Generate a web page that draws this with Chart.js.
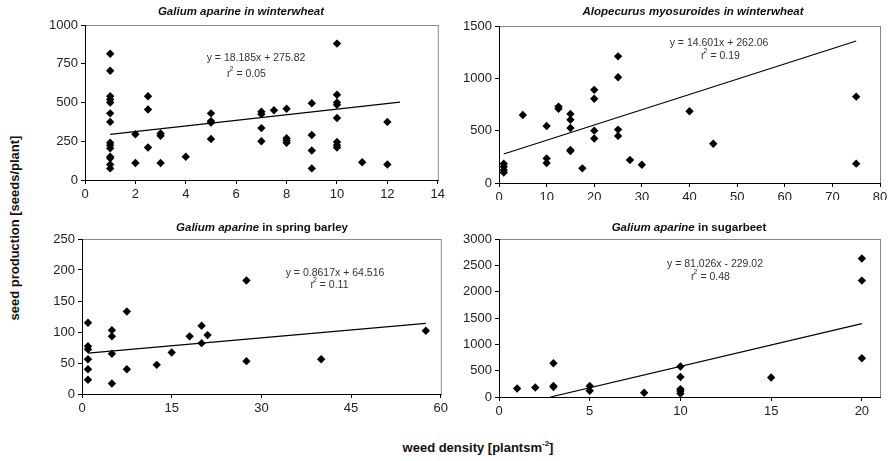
<!DOCTYPE html>
<html>
<head>
<meta charset="utf-8">
<script src="https://cdn.jsdelivr.net/npm/chart.js@4.4.0/dist/chart.umd.min.js"></script>
<style>
  body { margin: 0; background: #fff; font-family: "Liberation Sans", Arial, sans-serif; }
  #wrap { position: relative; width: 893px; height: 461px; overflow: hidden; }
  canvas { position: absolute; }
  .ylab { position: absolute; left: 14px; top: 228px; transform: translate(-50%, -50%) rotate(-90deg);
          font: bold 13px "Liberation Sans", Arial, sans-serif; color: #111; white-space: nowrap; }
  .xlab { position: absolute; left: 478px; top: 447px; transform: translate(-50%, -50%);
          font: bold 13px "Liberation Sans", Arial, sans-serif; color: #111; white-space: nowrap; }
  .xlab sup { font-size: 8px; vertical-align: 6px; line-height: 0; }
</style>
</head>
<body>
<div id="wrap">
  <canvas id="g1" width="418" height="200" style="left:30px;top:0px"></canvas>
  <canvas id="g2" width="443" height="200" style="left:450px;top:0px"></canvas>
  <canvas id="g3" width="421" height="200" style="left:30px;top:215px"></canvas>
  <canvas id="g4" width="443" height="200" style="left:450px;top:215px"></canvas>
  <div class="ylab">seed production [seeds/plant]</div>
  <div class="xlab">weed density [plantsm<sup>-2</sup>]</div>
</div>
<script>
// Galium aparine in winterwheat
const ww1X = [1,1,1,1,1,1,1,1,1,1,1,1,1,1, 2,2, 2.5,2.5,2.5, 3,3,3, 4, 5,5,5,5,
  7,7,7,7, 7.5, 8,8,8,8, 9,9,9,9, 10,10,10,10,10,10,10,10, 11, 12,12];
const ww1Y = [815,705,540,520,500,430,375,240,225,205,150,140,100,75, 295,110, 540,455,210, 300,285,110, 150, 430,380,370,265,
  440,425,335,250, 450, 460,270,255,240, 495,290,190,75, 880,550,500,485,400,245,225,210, 115, 375,100];
const ww1TrendX = [1, 12.5];
const ww1TrendY = [294, 503];

// Alopecurus myosuroides in winterwheat
const ww2X = [1,1,1,1, 5, 10,10,10, 12.5,12.5, 15,15,15,15,15, 17.5, 20,20,20,20, 25,25,25,25, 27.5, 30, 40, 45, 75,75];
const ww2Y = [185,155,125,100, 650, 545,235,190, 730,710, 660,605,525,315,305, 140, 890,805,500,425, 1210,1010,510,450, 220, 175, 685, 375, 825,185];
const ww2TrendX = [1, 75];
const ww2TrendY = [277, 1357];

// Galium aparine in spring barley
const sbX = [1,1,1,1,1,1, 5,5,5,5, 7.5,7.5, 12.5, 15, 18, 20,20, 21, 27.5,27.5, 40, 57.5];
const sbY = [115,77,72,56,40,23, 103,93,65,17, 133,40, 47, 67, 93, 110,82, 95, 183,53, 56, 102];
const sbTrendX = [1, 57.5];
const sbTrendY = [66, 114];

// Galium aparine in sugarbeet
const sgX = [1, 2, 3,3,3, 5,5, 8, 10,10,10,10,10, 15, 20,20,20];
const sgY = [160, 180, 640,210,190, 210,120, 80, 580,380,150,115,65, 370, 2630,2210,735];
const sgTrendX = [2.83, 20];
const sgTrendY = [0, 1392];

// [min, max, step]
const xTicks1 = [0, 14, 2], yTicks1 = [0, 1000, 250];
const xTicks2 = [0, 80, 10], yTicks2 = [0, 1500, 500];
const xTicks3 = [0, 60, 15], yTicks3 = [0, 250, 50];
const xTicks4 = [0, 21, 5],  yTicks4 = [0, 3000, 500];

const pts = (xs, ys) => xs.map((x, i) => ({ x: x, y: ys[i] }));

// frame, titel und gleichung
const panelText = {
  id: 'panelText',
  afterDraw(chart, args, o) {
    const ctx = chart.ctx, a = chart.chartArea;
    ctx.save();
    ctx.strokeStyle = '#888';
    ctx.lineWidth = 1;
    ctx.strokeRect(a.left + 0.5, a.top + 0.5, a.right - a.left, a.bottom - a.top);
    ctx.strokeStyle = '#000';
    ctx.beginPath();
    ctx.moveTo(a.left + 0.5, a.top);
    ctx.lineTo(a.left + 0.5, a.bottom + 0.5);
    ctx.lineTo(a.right + 1, a.bottom + 0.5);
    ctx.stroke();

    ctx.fillStyle = '#111';
    ctx.textBaseline = 'middle';
    ctx.textAlign = 'left';
    // title with italic species name
    const fonts = o.title.map(p => (p.i ? 'italic ' : '') + 'bold 11.5px "Liberation Sans", Arial, sans-serif');
    let w = 0;
    o.title.forEach((p, i) => { ctx.font = fonts[i]; w += ctx.measureText(p.t).width; });
    let x = o.tx - w / 2;
    o.title.forEach((p, i) => { ctx.font = fonts[i]; ctx.fillText(p.t, x, o.ty); x += ctx.measureText(p.t).width; });

    const f = '10.5px "Liberation Sans", Arial, sans-serif', fs = '7px "Liberation Sans", Arial, sans-serif';
    ctx.fillStyle = '#333';
    ctx.font = f;
    ctx.textAlign = 'center';
    ctx.fillText(o.eq, o.ex, o.ey);
    // r^2 line
    const rest = ' = ' + o.r2;
    ctx.textAlign = 'left';
    const wr = ctx.measureText('r').width, wrest = ctx.measureText(rest).width;
    ctx.font = fs;
    const w2 = ctx.measureText('2').width;
    let rx = o.rx - (wr + w2 + wrest) / 2;
    ctx.font = f;
    ctx.fillText('r', rx, o.ry);
    ctx.font = fs;
    ctx.fillText('2', rx + wr - 1, o.ry - 5);
    ctx.font = f;
    ctx.fillText(rest, rx + wr + w2 - 1, o.ry);
    ctx.restore();
  }
};

function makeChart(id, xs, ys, tx, ty, xt, yt, box, txt) {
  const tickFont = { family: '"Liberation Sans", Arial, sans-serif', size: 13 };
  return new Chart(document.getElementById(id).getContext('2d'), {
    type: 'scatter',
    data: {
      datasets: [{
        data: pts(xs, ys),
        pointStyle: 'rectRot',
        pointRadius: 4.2,
        pointHoverRadius: 4.2,
        backgroundColor: '#000',
        borderColor: '#000',
        borderWidth: 0
      }, {
        type: 'line',
        data: pts(tx, ty),
        borderColor: '#000',
        borderWidth: 1.2,
        pointRadius: 0,
        fill: false
      }]
    },
    options: {
      responsive: false,
      animation: false,
      layout: { padding: { left: 0, top: box.top, right: box.right, bottom: 0 } },
      plugins: { legend: { display: false }, tooltip: { enabled: false }, panelText: txt },
      scales: {
        x: {
          type: 'linear', min: xt[0], max: xt[1],
          afterFit: s => { s.height = box.xh; },
          border: { display: false },
          grid: { drawOnChartArea: false, tickLength: 4, color: '#000' },
          ticks: { stepSize: xt[2], includeBounds: false, font: tickFont, color: '#222', padding: 3, maxRotation: 0,
                   callback: v => String(v) }
        },
        y: {
          type: 'linear', min: yt[0], max: yt[1],
          afterFit: s => { s.width = box.yw; },
          border: { display: false },
          grid: { drawOnChartArea: false, tickLength: 4, color: '#000' },
          ticks: { stepSize: yt[2], font: tickFont, color: '#222', padding: 3,
                   callback: v => String(v) }
        }
      }
    },
    plugins: [panelText]
  });
}

makeChart('g1', ww1X, ww1Y, ww1TrendX, ww1TrendY, xTicks1, yTicks1,
  { top: 25, right: 10, xh: 20, yw: 55 },
  { title: [{ t: 'Galium aparine in winterwheat', i: true }], tx: 211, ty: 12,
    eq: 'y = 18.185x + 275.82', ex: 226, ey: 58, r2: '0.05', rx: 217, ry: 74 });

makeChart('g2', ww2X, ww2Y, ww2TrendX, ww2TrendY, xTicks2, yTicks2,
  { top: 26, right: 13, xh: 17, yw: 49 },
  { title: [{ t: 'Alopecurus myosuroides in winterwheat', i: true }], tx: 243, ty: 12,
    eq: 'y = 14.601x + 262.06', ex: 269, ey: 43, r2: '0.19', rx: 271, ry: 56 });

makeChart('g3', sbX, sbY, sbTrendX, sbTrendY, xTicks3, yTicks3,
  { top: 24, right: 10, xh: 21, yw: 52 },
  { title: [{ t: 'Galium aparine', i: true }, { t: ' in spring barley', i: false }], tx: 232, ty: 13,
    eq: 'y = 0.8617x + 64.516', ex: 305, ey: 58, r2: '0.11', rx: 300, ry: 70 });

makeChart('g4', sgX, sgY, sgTrendX, sgTrendY, xTicks4, yTicks4,
  { top: 24, right: 13, xh: 18, yw: 49 },
  { title: [{ t: 'Galium aparine', i: true }, { t: ' in sugarbeet', i: false }], tx: 239, ty: 13,
    eq: 'y = 81.026x - 229.02', ex: 265, ey: 49, r2: '0.48', rx: 261, ry: 62 });
</script>
</body>
</html>
